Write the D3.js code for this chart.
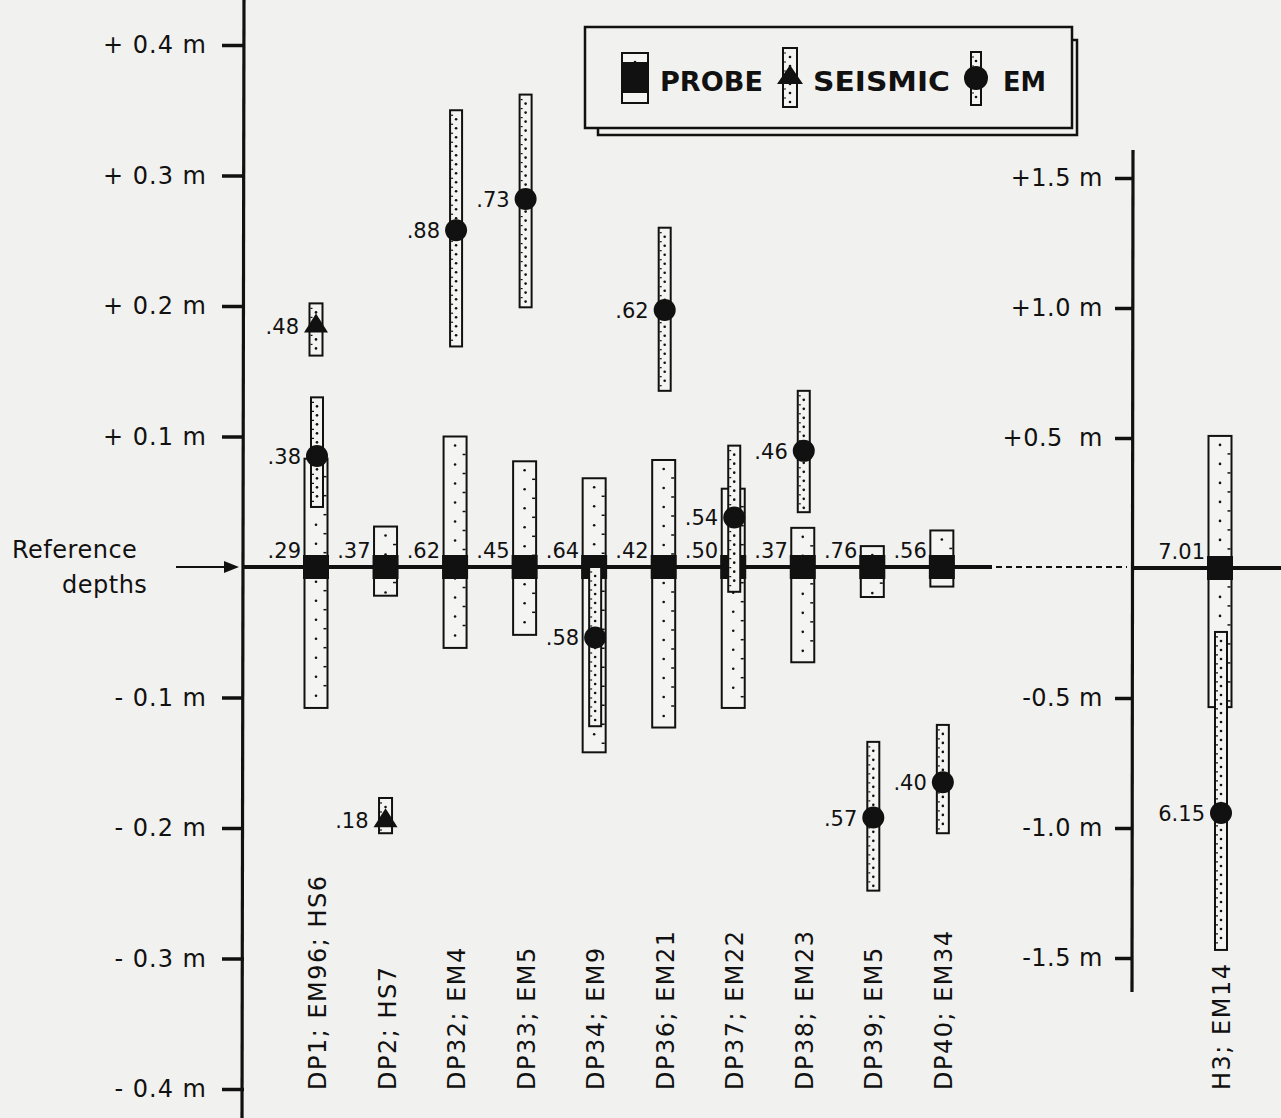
<!DOCTYPE html>
<html><head><meta charset="utf-8">
<script src="https://cdn.jsdelivr.net/npm/d3@7/dist/d3.min.js"></script>
<style>body{margin:0;background:#f1f1ef;} svg{display:block;} text{font-family:"DejaVu Sans",Verdana,sans-serif;fill:#111;}</style>
</head><body><svg id="c" width="1281" height="1118"></svg>
<script>
// ---------------- DATA ----------------
const stations = ["DP1; EM96; HS6","DP2; HS7","DP32; EM4","DP33; EM5","DP34; EM9","DP36; EM21",
                  "DP37; EM22","DP38; EM23","DP39; EM5","DP40; EM34","H3; EM14"];
const rightAxisStations = ["H3; EM14"];          // plotted against the right-hand (metre) scale

// PROBE: label (value printed), range top / bottom (m, relative to reference depth)
const probeLabels = [".29",".37",".62",".45",".64",".42",".50",".37",".76",".56","7.01"];
const probeTop    = [0.083, 0.031, 0.100, 0.081, 0.068, 0.082, 0.060, 0.030, 0.016, 0.028, 0.508];
const probeBottom = [-0.108,-0.022,-0.062,-0.052,-0.142,-0.123,-0.108,-0.073,-0.023,-0.015,-0.535];
const probeValue  = [0,0,0,0,0,0,0,0,0,0,0];

// EM
const emStations = ["DP1; EM96; HS6","DP32; EM4","DP33; EM5","DP34; EM9","DP36; EM21","DP37; EM22",
                    "DP38; EM23","DP39; EM5","DP40; EM34","H3; EM14"];
const emLabels = [".38",".88",".73",".58",".62",".54",".46",".57",".40","6.15"];
const emValue  = [0.085, 0.258, 0.282,-0.054, 0.197, 0.038, 0.089,-0.192,-0.165,-0.942];
const emTop    = [0.130, 0.350, 0.362, 0.000, 0.260, 0.093, 0.135,-0.134,-0.121,-0.246];
const emBottom = [0.046, 0.169, 0.199,-0.122, 0.135,-0.019, 0.042,-0.248,-0.204,-1.469];

// SEISMIC
const seisStations = ["DP1; EM96; HS6","DP2; HS7"];
const seisLabels = [".48",".18"];
const seisValue  = [0.185,-0.194];
const seisTop    = [0.202,-0.177];
const seisBottom = [0.162,-0.204];

// AXES
const leftTicks = [0.4,0.3,0.2,0.1,-0.1,-0.2,-0.3,-0.4];
const leftTickLabels = ["+ 0.4 m","+ 0.3 m","+ 0.2 m","+ 0.1 m","- 0.1 m","- 0.2 m","- 0.3 m","- 0.4 m"];
const rightTicks = [1.5,1.0,0.5,-0.5,-1.0,-1.5];
const rightTickLabels = ["+1.5 m","+1.0 m","+0.5  m","-0.5 m","-1.0 m","-1.5 m"];
const legendItems = ["PROBE","SEISMIC","EM"];

// ---------------- SCALES ----------------
const svg = d3.select("#c");
const W = 1281, H = 1118;
svg.append("rect").attr("width",W).attr("height",H).attr("fill","#f1f1ef");

const yL = d3.scaleLinear().domain([-0.4,0.4]).range([1089,45]);
const yR = d3.scaleLinear().domain([-1.5,1.5]).range([958,178]);
const slot = d3.scaleLinear().domain([0,13]).range([316,1220]);
const xOf = name => { const i = stations.indexOf(name); return slot(i < 10 ? i : i + 3); };
const yOf = name => rightAxisStations.includes(name) ? yR : yL;
const axL = 244, axR = 1133;
const paper = "#f4f4f2";

// ---------------- AXES ----------------
svg.append("line").attr("x1",axL).attr("x2",axL-2).attr("y1",0).attr("y2",H)
   .attr("stroke","#111").attr("stroke-width",3.2);
const gL = svg.append("g").attr("transform",`translate(${axL},0)`)
  .call(d3.axisLeft(yL).tickValues(leftTicks).tickFormat((d,i)=>leftTickLabels[i]).tickSize(22).tickPadding(15));
gL.select(".domain").remove();
gL.selectAll(".tick line").attr("stroke","#111").attr("stroke-width",3.5);
gL.selectAll(".tick text").attr("font-size",24).attr("letter-spacing",1).attr("fill","#111")
  .style("font-family","'DejaVu Sans',sans-serif");

svg.append("line").attr("x1",axR).attr("x2",axR-1).attr("y1",yR(1.5)-28).attr("y2",yR(-1.5)+34)
   .attr("stroke","#111").attr("stroke-width",3.2);
const gR = svg.append("g").attr("transform",`translate(${axR},0)`)
  .call(d3.axisLeft(yR).tickValues(rightTicks).tickFormat((d,i)=>rightTickLabels[i]).tickSize(18).tickPadding(12));
gR.select(".domain").remove();
gR.selectAll(".tick line").attr("stroke","#111").attr("stroke-width",3.5);
gR.selectAll(".tick text").attr("font-size",24).attr("letter-spacing",0.5).attr("fill","#111")
  .style("font-family","'DejaVu Sans',sans-serif").style("white-space","pre").attr("xml:space","preserve");

// reference line
const y0 = yL(0);
svg.append("line").attr("x1",axL).attr("x2",992).attr("y1",y0).attr("y2",y0).attr("stroke","#111").attr("stroke-width",4);
svg.append("line").attr("x1",996).attr("x2",1127).attr("y1",y0).attr("y2",y0).attr("stroke","#111")
   .attr("stroke-width",2.2).attr("stroke-dasharray","6,4");
svg.append("line").attr("x1",axR).attr("x2",W).attr("y1",yR(0)).attr("y2",yR(0)).attr("stroke","#111").attr("stroke-width",4);

// Reference depths label + arrow
svg.append("text").attr("x",12).attr("y",558).attr("font-size",24).attr("letter-spacing",0.5).text("Reference");
svg.append("text").attr("x",62).attr("y",593).attr("font-size",24).attr("letter-spacing",0.5).text("depths");
svg.append("line").attr("x1",176).attr("x2",226).attr("y1",y0).attr("y2",y0).attr("stroke","#111").attr("stroke-width",2.2);
svg.append("path").attr("d",`M224,${y0-6}L239,${y0}L224,${y0+6}Z`).attr("fill","#111");

// ---------------- MARK HELPERS ----------------
function drawBar(g, cx, yTop, yBot, w, kind){
  g.append("rect").attr("x",cx-w/2).attr("y",yTop).attr("width",w).attr("height",yBot-yTop)
   .attr("fill",paper).attr("stroke","#111").attr("stroke-width",2);
  const step = kind==="probe" ? 19 : 9;
  const dots = d3.range(yTop+9, yBot-3, step);
  g.selectAll(null).data(dots).enter().append("circle")
   .attr("cx",cx).attr("cy",d=>d).attr("r",1.3).attr("fill","#111");
  if(kind==="probe"){
    g.selectAll(null).data(d3.range(yTop+18, yBot-5, step)).enter().append("line")
     .attr("x1",cx+w/2-4).attr("x2",cx+w/2-1).attr("y1",d=>d).attr("y2",d=>d)
     .attr("stroke","#111").attr("stroke-width",1.5);
  } else {
    g.selectAll(null).data(d3.range(yTop+5, yBot-3, step)).enter().append("line")
     .attr("x1",cx-w/2+1).attr("x2",cx-w/2+3).attr("y1",d=>d).attr("y2",d=>d)
     .attr("stroke","#111").attr("stroke-width",1.2);
  }
}
const square = (g,cx,cy)=>g.append("rect").attr("x",cx-13).attr("y",cy-12).attr("width",26).attr("height",24).attr("fill","#111");
const dot = (g,cx,cy,r)=>g.append("circle").attr("cx",cx).attr("cy",cy).attr("r",r||11).attr("fill","#111");
const tri = (g,cx,cy,w)=>{ w=w||24; g.append("path").attr("d",`M${cx},${cy-12}L${cx+w/2},${cy+7}L${cx-w/2},${cy+7}Z`).attr("fill","#111"); };
const label = (g,x,y,t)=>g.append("text").attr("x",x).attr("y",y).attr("text-anchor","end").attr("font-size",21).text(t);

// ---------------- PROBE ----------------
const gP = svg.append("g");
stations.forEach((s,i)=>{
  const y = yOf(s), cx = xOf(s);
  drawBar(gP, cx, y(probeTop[i]), y(probeBottom[i]), 23, "probe");
});
stations.forEach((s,i)=>{
  const y = yOf(s), cx = xOf(s);
  square(gP, cx, y(probeValue[i]));
  label(gP, cx-15, y(probeValue[i])-9, probeLabels[i]);
});

// ---------------- EM ----------------
const gE = svg.append("g");
emStations.forEach((s,i)=>{
  const y = yOf(s), cx = xOf(s)+1;
  drawBar(gE, cx, y(emTop[i]), y(emBottom[i]), 12, "em");
  dot(gE, cx, y(emValue[i]));
  label(gE, cx-16, y(emValue[i])+8, emLabels[i]);
});

// ---------------- SEISMIC ----------------
const gS = svg.append("g");
seisStations.forEach((s,i)=>{
  const y = yOf(s), cx = xOf(s);
  drawBar(gS, cx, y(seisTop[i]), y(seisBottom[i]), 13, "seis");
  tri(gS, cx, y(seisValue[i]));
  label(gS, cx-17, y(seisValue[i])+8, seisLabels[i]);
});

// ---------------- STATION LABELS ----------------
svg.selectAll(".st").data(stations).enter().append("text")
  .attr("transform",d=>`translate(${xOf(d)+10},1090) rotate(-90)`)
  .attr("font-size",24).attr("letter-spacing",1.5).text(d=>d);

// ---------------- LEGEND ----------------
const gLg = svg.append("g");
gLg.append("rect").attr("x",598).attr("y",40).attr("width",479).attr("height",95)
   .attr("fill","none").attr("stroke","#111").attr("stroke-width",2.5);
gLg.append("rect").attr("x",585).attr("y",27).attr("width",487).attr("height",101)
   .attr("fill","#f1f1ef").attr("stroke","#111").attr("stroke-width",2.5);
drawBar(gLg, 635, 53, 103, 26, "probe");
gLg.append("rect").attr("x",622).attr("y",62).attr("width",26).attr("height",31).attr("fill","#111");
drawBar(gLg, 790, 48, 107, 14, "seis");
tri(gLg, 790, 77, 26);
drawBar(gLg, 976, 52, 105, 10, "em");
dot(gLg, 976, 78, 12);
const legX = [660, 813, 1003], legLen = [103, 137, 43];
legendItems.forEach((t,i)=>{
  gLg.append("text").attr("x",legX[i]).attr("y",91).attr("font-size",27).attr("font-weight","bold")
     .attr("textLength",legLen[i]).attr("lengthAdjust","spacingAndGlyphs").text(t);
});
</script></body></html>
